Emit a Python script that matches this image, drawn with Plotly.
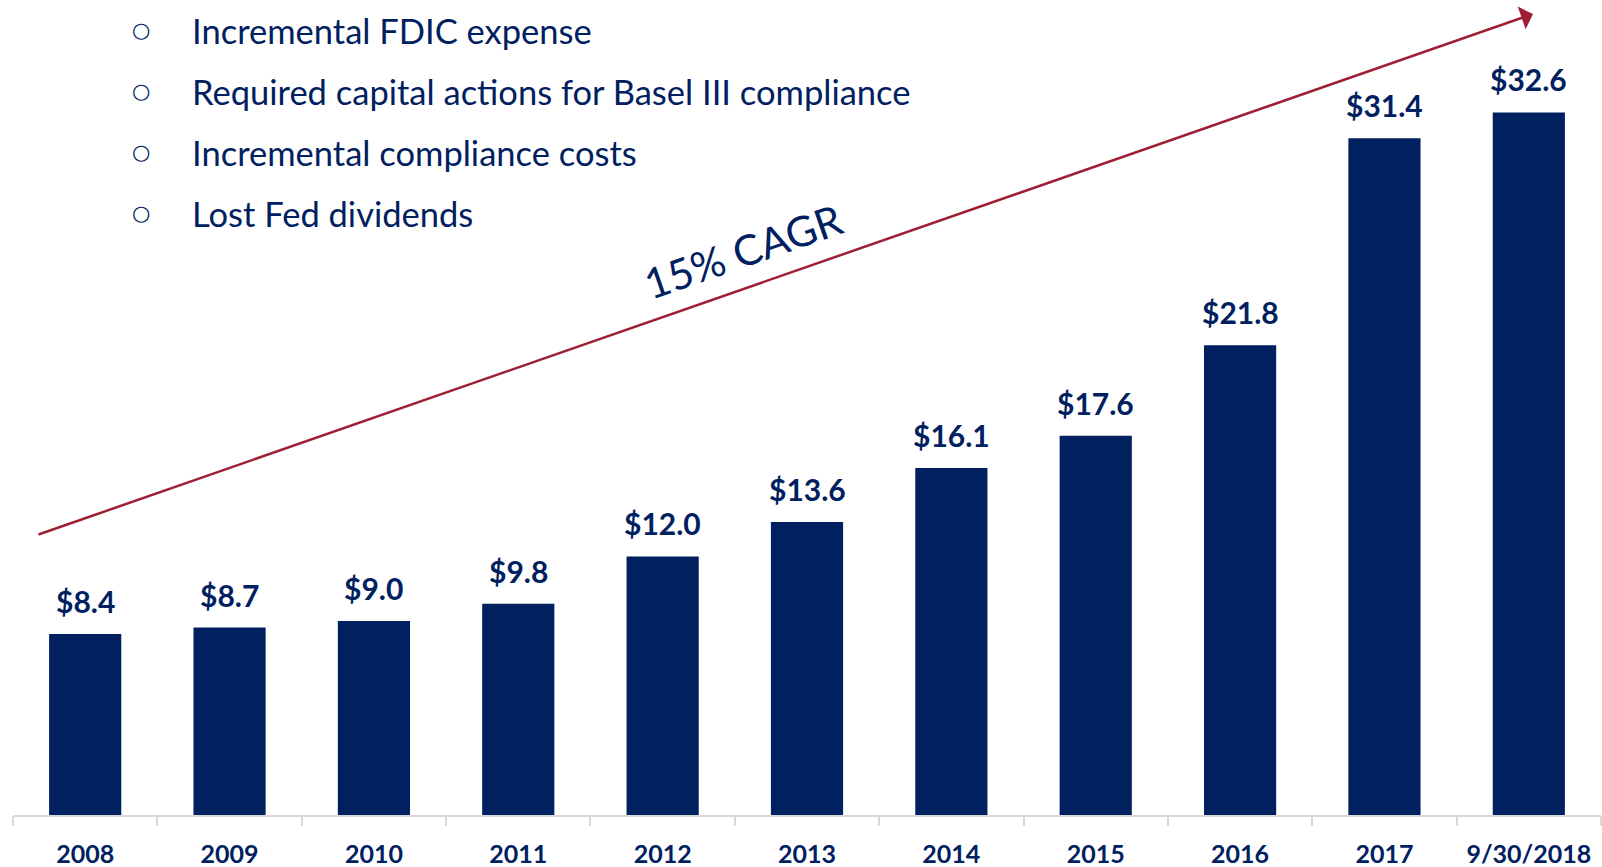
import plotly.graph_objects as go

categories = ["2008", "2009", "2010", "2011", "2012", "2013", "2014", "2015", "2016", "2017", "9/30/2018"]
values = [8.4, 8.7, 9.0, 9.8, 12.0, 13.6, 16.1, 17.6, 21.8, 31.4, 32.6]
bullets = ["Incremental FDIC expense",
           "Required capital actions for Basel III compliance",
           "Incremental compliance costs",
           "Lost Fed dividends"]
cagr_label = "15% CAGR"

NAVY = "#002060"
RED = "#9E1F35"
W, H = 1602, 867
ML, MR, MT, MB = 13, 1, 0, 52
PW, PH = W - ML - MR, H - MT - MB


def px(xp):
    return (xp - ML) / PW


def py(yp):
    return (H - MB - yp) / PH


idx = list(range(len(categories)))

fig = go.Figure()
fig.add_trace(go.Bar(x=idx, y=values, marker=dict(color=NAVY, line=dict(width=0)),
                     width=0.5, hoverinfo="skip"))

ann = []
for i, v in zip(idx, values):
    ann.append(dict(x=i, y=v, xref="x", yref="y", text=f"${v:.1f}", showarrow=False,
                    yanchor="bottom", yshift=13,
                    font=dict(family="Lato", size=30, color=NAVY, weight="bold")))

# bullets
ys = [30, 91, 152, 213]
for t, yy in zip(bullets, ys):
    ann.append(dict(x=px(141), y=py(yy), xref="paper", yref="paper", text="○", showarrow=False,
                    xanchor="center", yanchor="middle",
                    font=dict(family="DejaVu Sans", size=21, color=NAVY)))
    ann.append(dict(x=px(190), y=py(yy), xref="paper", yref="paper", text=t, showarrow=False,
                    xanchor="left", yanchor="middle",
                    font=dict(family="Lato", size=34.5, color=NAVY)))

# arrow
ann.append(dict(x=px(1533), y=py(14), xref="paper", yref="paper", text="",
                showarrow=True, ax=37 - 1533, ay=535 - 14, arrowhead=1, arrowsize=1.6,
                arrowwidth=2.5, arrowcolor=RED, standoff=0, startstandoff=0))

ann.append(dict(x=px(743), y=py(251), xref="paper", yref="paper", text=cagr_label,
                showarrow=False, textangle=-19.2, xanchor="center", yanchor="middle",
                font=dict(family="Lato", size=42, color=NAVY)))

fig.update_layout(
    width=W, height=H, margin=dict(l=ML, r=MR, t=MT, b=MB, autoexpand=False),
    paper_bgcolor="white", plot_bgcolor="white", showlegend=False,
    annotations=ann,
    xaxis=dict(tickmode="array", tickvals=idx, ticktext=categories, automargin=False,
               range=[-0.5, len(categories) - 0.5], showgrid=False, zeroline=False,
               showline=True, linecolor="#D9D9D9", linewidth=2,
               ticks="",
               tickfont=dict(family="Lato", size=25, color=NAVY, weight="bold"),
               ticklabelstandoff=16),
    yaxis=dict(range=[0, PH / 21.55], visible=False, showgrid=False, zeroline=False),
)

# boundary tick marks between categories (drawn as a second, overlaid x axis)
fig.add_trace(go.Scatter(x=[None], y=[None], xaxis="x2", showlegend=False, hoverinfo="skip"))
fig.update_layout(
    xaxis2=dict(overlaying="x", anchor="y", range=[-0.5, len(categories) - 0.5], automargin=False,
                tickmode="array", tickvals=[i - 0.5 for i in range(len(categories) + 1)],
                ticks="outside", ticklen=10, tickcolor="#D9D9D9", tickwidth=1.5,
                showticklabels=False, showgrid=False, zeroline=False, showline=False,
                side="bottom"),
)

fig.write_html("out.html", config={"displayModeBar": False},
               post_script="document.body.style.margin='0';document.body.style.overflow='hidden';")
